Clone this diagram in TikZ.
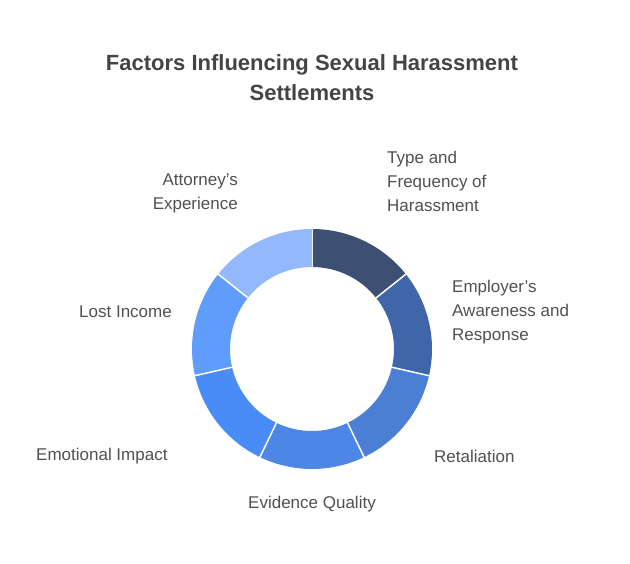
\documentclass[tikz,border=0pt]{standalone}
\usepackage{fontspec}
\setmainfont{Liberation Sans}
\definecolor{tc}{HTML}{444444}
\definecolor{lc}{HTML}{505050}
\definecolor{s1}{HTML}{3D4F73}
\definecolor{s2}{HTML}{3F66A8}
\definecolor{s3}{HTML}{4B7FD4}
\definecolor{s4}{HTML}{4D86E4}
\definecolor{s5}{HTML}{4A8CF5}
\definecolor{s6}{HTML}{609DFB}
\definecolor{s7}{HTML}{93B8FD}
\begin{document}
\begin{tikzpicture}[x=1pt,y=1pt,
  lbl/.style={text=lc,font=\fontsize{17}{24}\selectfont,inner sep=0pt},
  seg/.style={draw=white,line width=1.5pt}]
\useasboundingbox (0,0) rectangle (630,564);
\node[text=tc,font=\fontsize{22}{30}\selectfont\bfseries,align=center] (title) at (312,486) {Factors Influencing Sexual Harassment\\Settlements};
\begin{scope}[shift={(312,215)}]
\foreach \i/\c in {0/s1,1/s2,2/s3,3/s4,4/s5,5/s6,6/s7}{
  \pgfmathsetmacro{\a}{90-\i*360/7}
  \pgfmathsetmacro{\b}{90-(\i+1)*360/7}
  \fill[\c] (\a:120) arc (\a:\b:120) -- (\b:82) arc (\b:\a:82) -- cycle;
  \draw[seg] (\a:82) -- (\a:121);
}
\end{scope}
\node[lbl,anchor=west,align=left] (l1) at (387,383) {Type and\\Frequency of\\Harassment};
\node[lbl,anchor=west,align=left] (l2) at (452,252) {Employer's\\Awareness and\\Response};
\node[lbl,anchor=west] (l3) at (434,108) {Retaliation};
\node[lbl] (l4) at (312,60) {Evidence Quality};
\node[lbl,anchor=west] (l5) at (36,108) {Emotional Impact};
\node[lbl,anchor=east] (l6) at (172,252) {Lost Income};
\node[lbl,anchor=east,align=right] (l7) at (238,371) {Attorney's\\Experience};
\end{tikzpicture}
\end{document}
